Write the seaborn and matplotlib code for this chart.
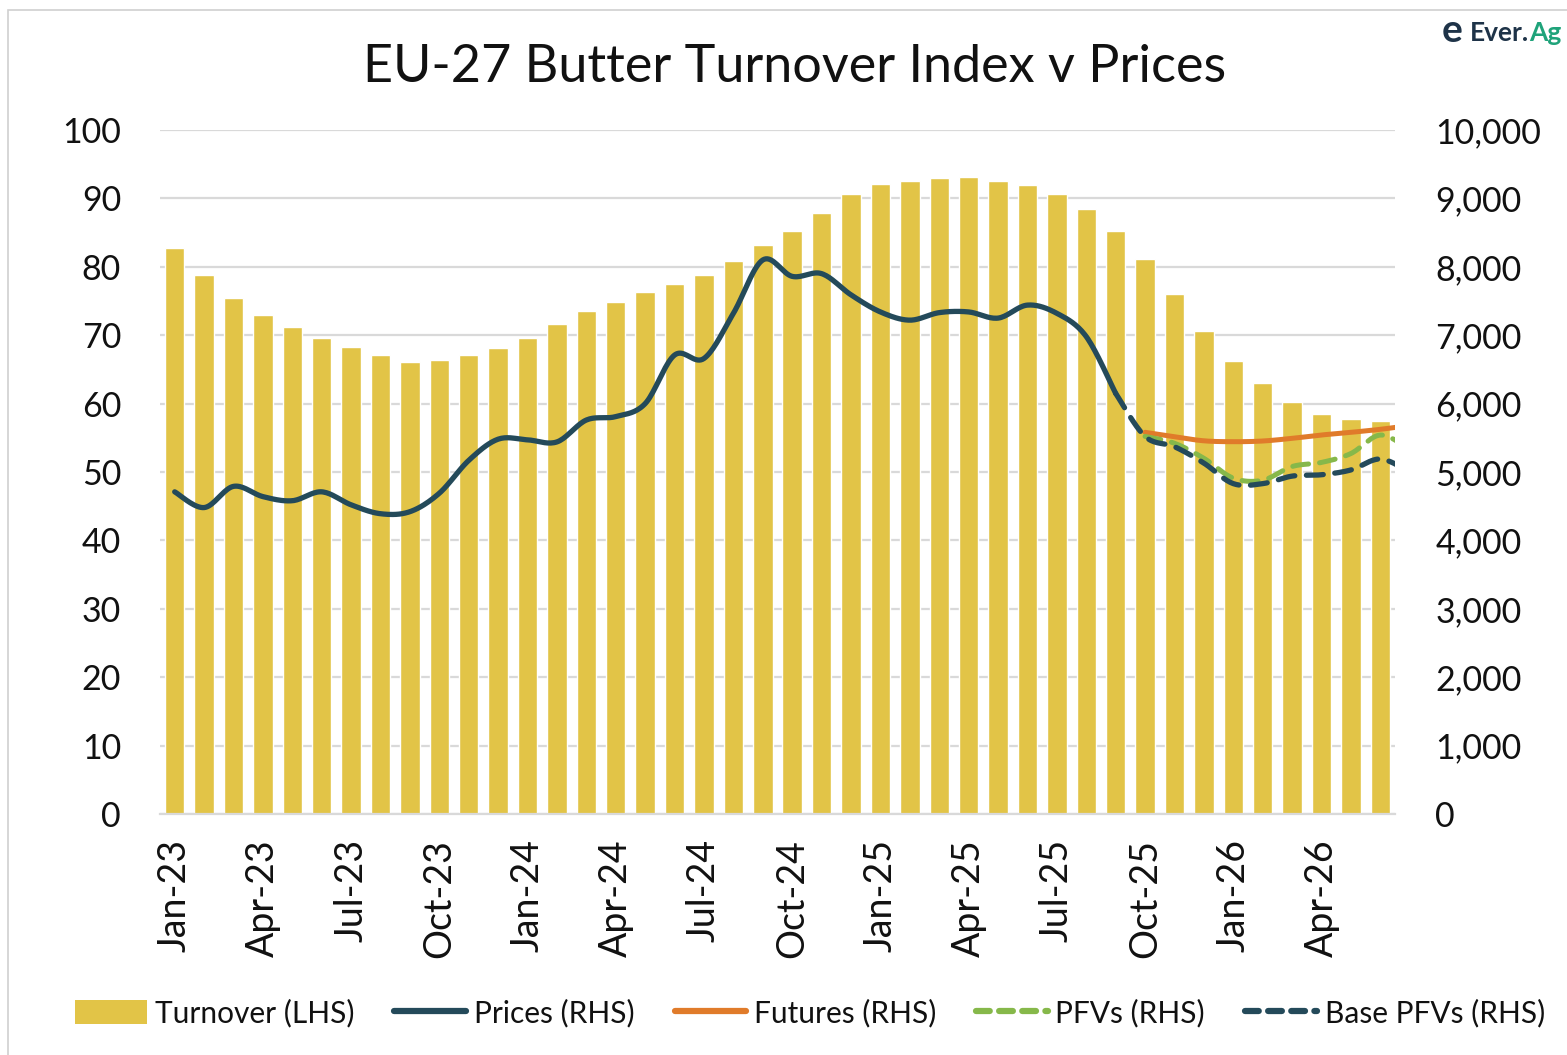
import numpy as np
import pandas as pd
import matplotlib
matplotlib.use("Agg")
import matplotlib.pyplot as plt
import seaborn as sns
from matplotlib.lines import Line2D
from matplotlib.patches import Patch, Rectangle

# data
months = pd.date_range("2023-01-01", "2026-06-01", freq="MS").strftime("%b-%y").tolist()
turnover = [82.7, 78.8, 75.4, 73.0, 71.2, 69.6, 68.3, 67.1, 66.1, 66.4, 67.1, 68.1,
            69.6, 71.6, 73.5, 74.9, 76.3, 77.5, 78.8, 80.8, 83.2, 85.2, 87.9, 90.6,
            92.1, 92.5, 93.0, 93.1, 92.5, 92.0, 90.6, 88.5, 85.2, 81.1, 76.0, 70.6,
            66.2, 63.0, 60.2, 58.5, 57.7, 57.5]
# Jan-23 .. Sep-25
prices = [4710, 4480, 4790, 4640, 4580, 4710, 4520, 4390, 4420, 4690, 5170, 5480,
          5470, 5440, 5760, 5810, 6000, 6710, 6660, 7320, 8100, 7860, 7900, 7590,
          7340, 7220, 7330, 7340, 7250, 7440, 7320, 6980, 6150]
# Sep-25 .. Jul-26 (last point sits past the axis edge)
base_pfvs = [6150, 5520, 5370, 5130, 4830, 4830, 4940, 4960, 5030, 5190, 5000]
# Oct-25 .. Jul-26
pfvs = [5520, 5420, 5200, 4910, 4880, 5080, 5140, 5270, 5540, 5330]
futures = [5580, 5515, 5456, 5443, 5453, 5492, 5541, 5580, 5624, 5680]

gold = "#E2C447"
navy = "#244A5A"
orange = "#E07B2A"
green = "#86B84A"
grid_c = "#D9D9D9"
font = "Lato"


def smooth(x, y, n=20):
    # excel-style smoothed line (bezier through the points)
    x = np.asarray(x, float)
    y = np.asarray(y, float)
    P = np.column_stack([x, y])
    out = []
    for i in range(len(P) - 1):
        p0 = P[i - 1] if i > 0 else P[i]
        p3 = P[i + 2] if i + 2 < len(P) else P[i + 1]
        b0 = P[i]
        b3 = P[i + 1]
        b1 = b0 + (b3 - p0) / 6
        b2 = b3 - (p3 - b0) / 6
        t = np.linspace(0, 1, n)[:, None]
        seg = (1 - t) ** 3 * b0 + 3 * (1 - t) ** 2 * t * b1 + 3 * (1 - t) * t ** 2 * b2 + t ** 3 * b3
        out.append(seg if i == 0 else seg[1:])
    out = np.vstack(out)
    return out[:, 0], out[:, 1]


sns.set_style("white")
plt.rcParams["font.family"] = [font, "DejaVu Sans"]

fig = plt.figure(figsize=(15.67, 10.55), dpi=100)
ax = fig.add_axes([160 / 1567, 1 - 814 / 1055, (1395 - 160) / 1567, (814 - 130) / 1055])

df = pd.DataFrame({"month": months, "turnover": turnover})
sns.barplot(data=df, x="month", y="turnover", color=gold, saturation=1, width=0.66,
            ax=ax, zorder=2)
ax.set_ylim(0, 100)
ax.set_xlim(-0.5, len(months) - 0.5)
ax.set_yticks(range(0, 101, 10))
ax.yaxis.grid(True, color=grid_c, lw=1.6, zorder=0)
ax.set_axisbelow(True)
ax.set_xlabel("")
ax.set_ylabel("")
for s in ["top", "right", "left"]:
    ax.spines[s].set_visible(False)
ax.spines["bottom"].set_color(grid_c)
ax.spines["bottom"].set_linewidth(1.6)

ax.set_xticks(range(0, len(months), 3))
ax.set_xticklabels(months[::3], rotation=90, fontsize=27, color="#111111")
ax.tick_params(axis="x", length=0, pad=18)
ax.tick_params(axis="y", length=0, pad=28, labelsize=24.5, labelcolor="#111111")

ax2 = ax.twinx()
ax2.set_ylim(0, 10000)
ax2.set_yticks(range(0, 10001, 1000))
ax2.set_yticklabels([f"{v:,}" for v in range(0, 10001, 1000)])
ax2.tick_params(axis="y", length=0, pad=29, labelsize=24.5, labelcolor="#111111")
for s in ax2.spines.values():
    s.set_visible(False)
ax2.grid(False)

idx_p = np.arange(len(prices))
xs, ys = smooth(idx_p, prices)
ax2.plot(xs, ys, color=navy, lw=3.8, solid_capstyle="round", zorder=3)

start_f = len(months) - len(futures) + 1
idx_f = np.arange(start_f, start_f + len(futures))
xs, ys = smooth(idx_f, futures)
ax2.plot(xs, ys, color=orange, lw=3.6, solid_capstyle="round", zorder=4)

xs, ys = smooth(idx_f, pfvs)
ax2.plot(xs, ys, color=green, lw=3.6, dashes=(3.2, 2.2), dash_capstyle="round", zorder=5)

idx_b = np.arange(start_f - 1, start_f - 1 + len(base_pfvs))
xs, ys = smooth(idx_b, base_pfvs)
ax2.plot(xs, ys, color=navy, lw=3.8, dashes=(3.2, 2.2), dash_capstyle="round", zorder=6)

fig.text(0.507, 1 - 68 / 1055, "EU-27 Butter Turnover Index v Prices", ha="center",
         va="center", fontsize=37.5, color="#111111")

handles = [
    Patch(facecolor=gold, edgecolor="none"),
    Line2D([], [], color=navy, lw=4.5, solid_capstyle="round"),
    Line2D([], [], color=orange, lw=4.5, solid_capstyle="round"),
    Line2D([], [], color=green, lw=4.5, dashes=(2.2, 1.5), dash_capstyle="round"),
    Line2D([], [], color=navy, lw=4.5, dashes=(2.2, 1.5), dash_capstyle="round"),
]
labels = ["Turnover (LHS)", "Prices (RHS)", "Futures (RHS)", "PFVs (RHS)", "Base PFVs (RHS)"]
fig.legend(handles, labels, loc="center", bbox_to_anchor=(0.517, 1 - 1013 / 1055), ncol=5,
           frameon=False, fontsize=21.5, handlelength=2.4, handleheight=0.9,
           handletextpad=0.25, columnspacing=1.35, labelcolor="#111111")

# chart border and logo
fig.patches.append(Rectangle((8 / 1567, -0.1), 1.2, 1 - 10 / 1055 + 0.1, transform=fig.transFigure,
                             fill=False, edgecolor="#D0D0D0", lw=1.2))
ever = fig.text(1470 / 1567, 1 - 33 / 1055, "Ever.", ha="left", va="center", fontsize=19,
                fontweight="bold", color="#1E3348")
fig.canvas.draw()
bb = ever.get_window_extent().transformed(fig.transFigure.inverted())
fig.text(bb.x1, 1 - 33 / 1055, "Ag", ha="left", va="center", fontsize=19,
         fontweight="bold", color="#1FA37A")
fig.text(1452 / 1567, 1 - 31 / 1055, "e", ha="center", va="center", fontsize=28,
         fontweight="bold", color="#1E3348")

fig.savefig("out.png", dpi=100)
